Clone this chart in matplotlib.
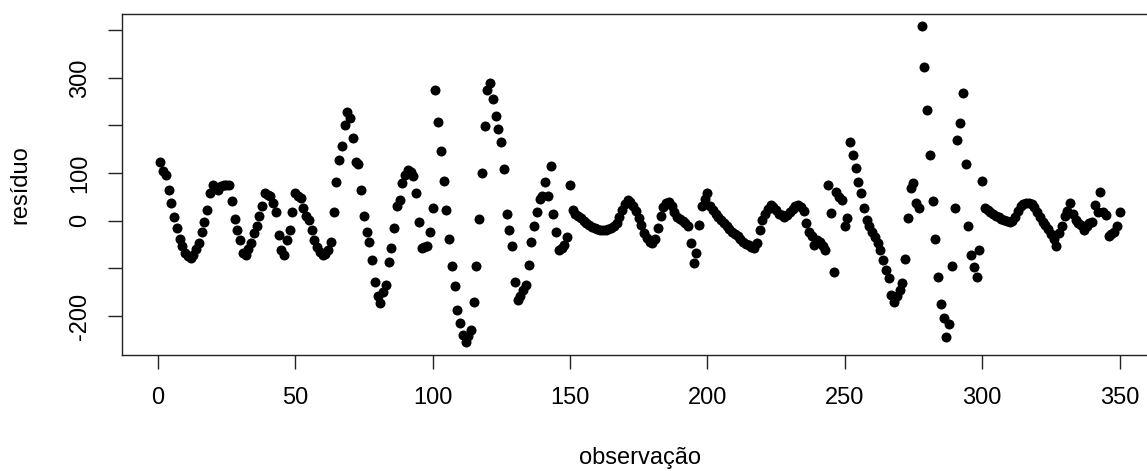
import numpy as np
from matplotlib import pyplot as plt

plt.rcParams['font.family'] = ['Liberation Sans', 'DejaVu Sans']

residuo = [
    123, 105, 95, 65, 37, 8, -15, -39, -54, -68,
    -74, -79, -72, -60, -47, -23, -2, 23, 59, 75,
    70, 65, 72, 75, 74, 75, 42, 3, -19, -40,
    -68, -72, -60, -47, -25, -12, 9, 30, 59, 55,
    51, 37, 19, -30, -61, -72, -40, -19, 19, 58,
    52, 47, 26, 10, 2, -19, -40, -55, -65, -72,
    -70, -61, -44, 19, 82, 128, 156, 201, 229, 215,
    173, 124, 119, 65, 9, -23, -44, -82, -128, -159,
    -173, -150, -135, -86, -58, -16, 30, 44, 79, 96,
    107, 103, 93, 59, -2, -58, -56, -54, -23, 26,
    275, 208, 147, 84, 23, -39, -95, -138, -187, -215,
    -240, -254, -243, -229, -170, -95, 3, 100, 199, 275,
    290, 255, 219, 192, 166, 109, 14, -20, -54, -128,
    -166, -159, -145, -135, -93, -44, -12, 19, 45, 52,
    82, 52, 114, 14, -23, -61, -58, -50, -35, 75,
    22, 15, 9, 5, 0, -5, -9, -13, -16, -18,
    -19, -19, -19, -18, -16, -12, -5, 8, 22, 35,
    44, 40, 30, 20, 5, -10, -25, -37, -45, -47,
    -38, -15, 10, 28, 38, 40, 30, 18, 8, 3,
    0, -5, -12, -47, -89, -68, -9, 30, 45, 58,
    30, 22, 15, 8, 2, -5, -12, -18, -23, -28,
    -33, -38, -44, -48, -52, -56, -58, -47, -19, 2,
    15, 25, 33, 28, 23, 15, 12, 8, 12, 18,
    25, 30, 32, 28, 20, -5, -23, -33, -51, -40,
    -44, -54, -62, 75, 16, -107, 61, 50, 44, -12,
    5, 166, 138, 110, 82, 58, 26, 2, -12, -23,
    -35, -47, -61, -82, -103, -121, -156, -170, -159, -145,
    -131, -81, 5, 68, 79, 37, 26, 409, 323, 233,
    138, 42, -39, -119, -175, -205, -245, -217, -95, 26,
    170, 205, 268, 119, -12, -72, -98, -119, -61, 84,
    26, 22, 18, 14, 10, 7, 4, 2, 0, -2,
    0, 8, 20, 30, 36, 38, 38, 36, 28, 18,
    8, -2, -10, -18, -28, -38, -54, -26, -12, 9,
    20, 37, 15, 2, -5, -10, -19, -12, -5, -2,
    33, 18, 61, 19, 12, -33, -28, -23, -12, 19,
]
observacao = np.arange(1, len(residuo) + 1)

xticks = [0, 50, 100, 150, 200, 250, 300, 350]
yticks = [-200, -100, 0, 100, 200, 300, 400]
ytick_labels = ["-200", "", "0", "100", "", "300", ""]

W, H = 1147, 471
fig = plt.figure(figsize=(W / 100, H / 100), dpi=100)
ax = fig.add_axes([122 / W, 1 - 355 / H, (1158 - 122) / W, (355 - 14) / H])

ax.plot(observacao, residuo, 'o', color='black', markersize=7.2, markeredgewidth=0)

ax.set_xlim(-13, 364)
ax.set_ylim(-282, 434)
ax.set_xticks(xticks)
ax.set_yticks(yticks)
ax.set_yticklabels(ytick_labels)
ax.tick_params(axis='both', length=10, width=1, labelsize=17, color='#222222')
ax.tick_params(axis='x', pad=13)
ax.tick_params(axis='y', pad=12)
for lab in ax.get_yticklabels():
    lab.set_rotation(90)
    lab.set_va('center')
for s in ax.spines.values():
    s.set_linewidth(1.0)
    s.set_color('#222222')

fig.text(640 / W, 1 - 458 / H, "observação", ha='center', va='center', fontsize=17)
fig.text(20 / W, 1 - 185 / H, "resíduo", ha='center', va='center', rotation=90, fontsize=17)

fig.savefig("out.png", dpi=100)
